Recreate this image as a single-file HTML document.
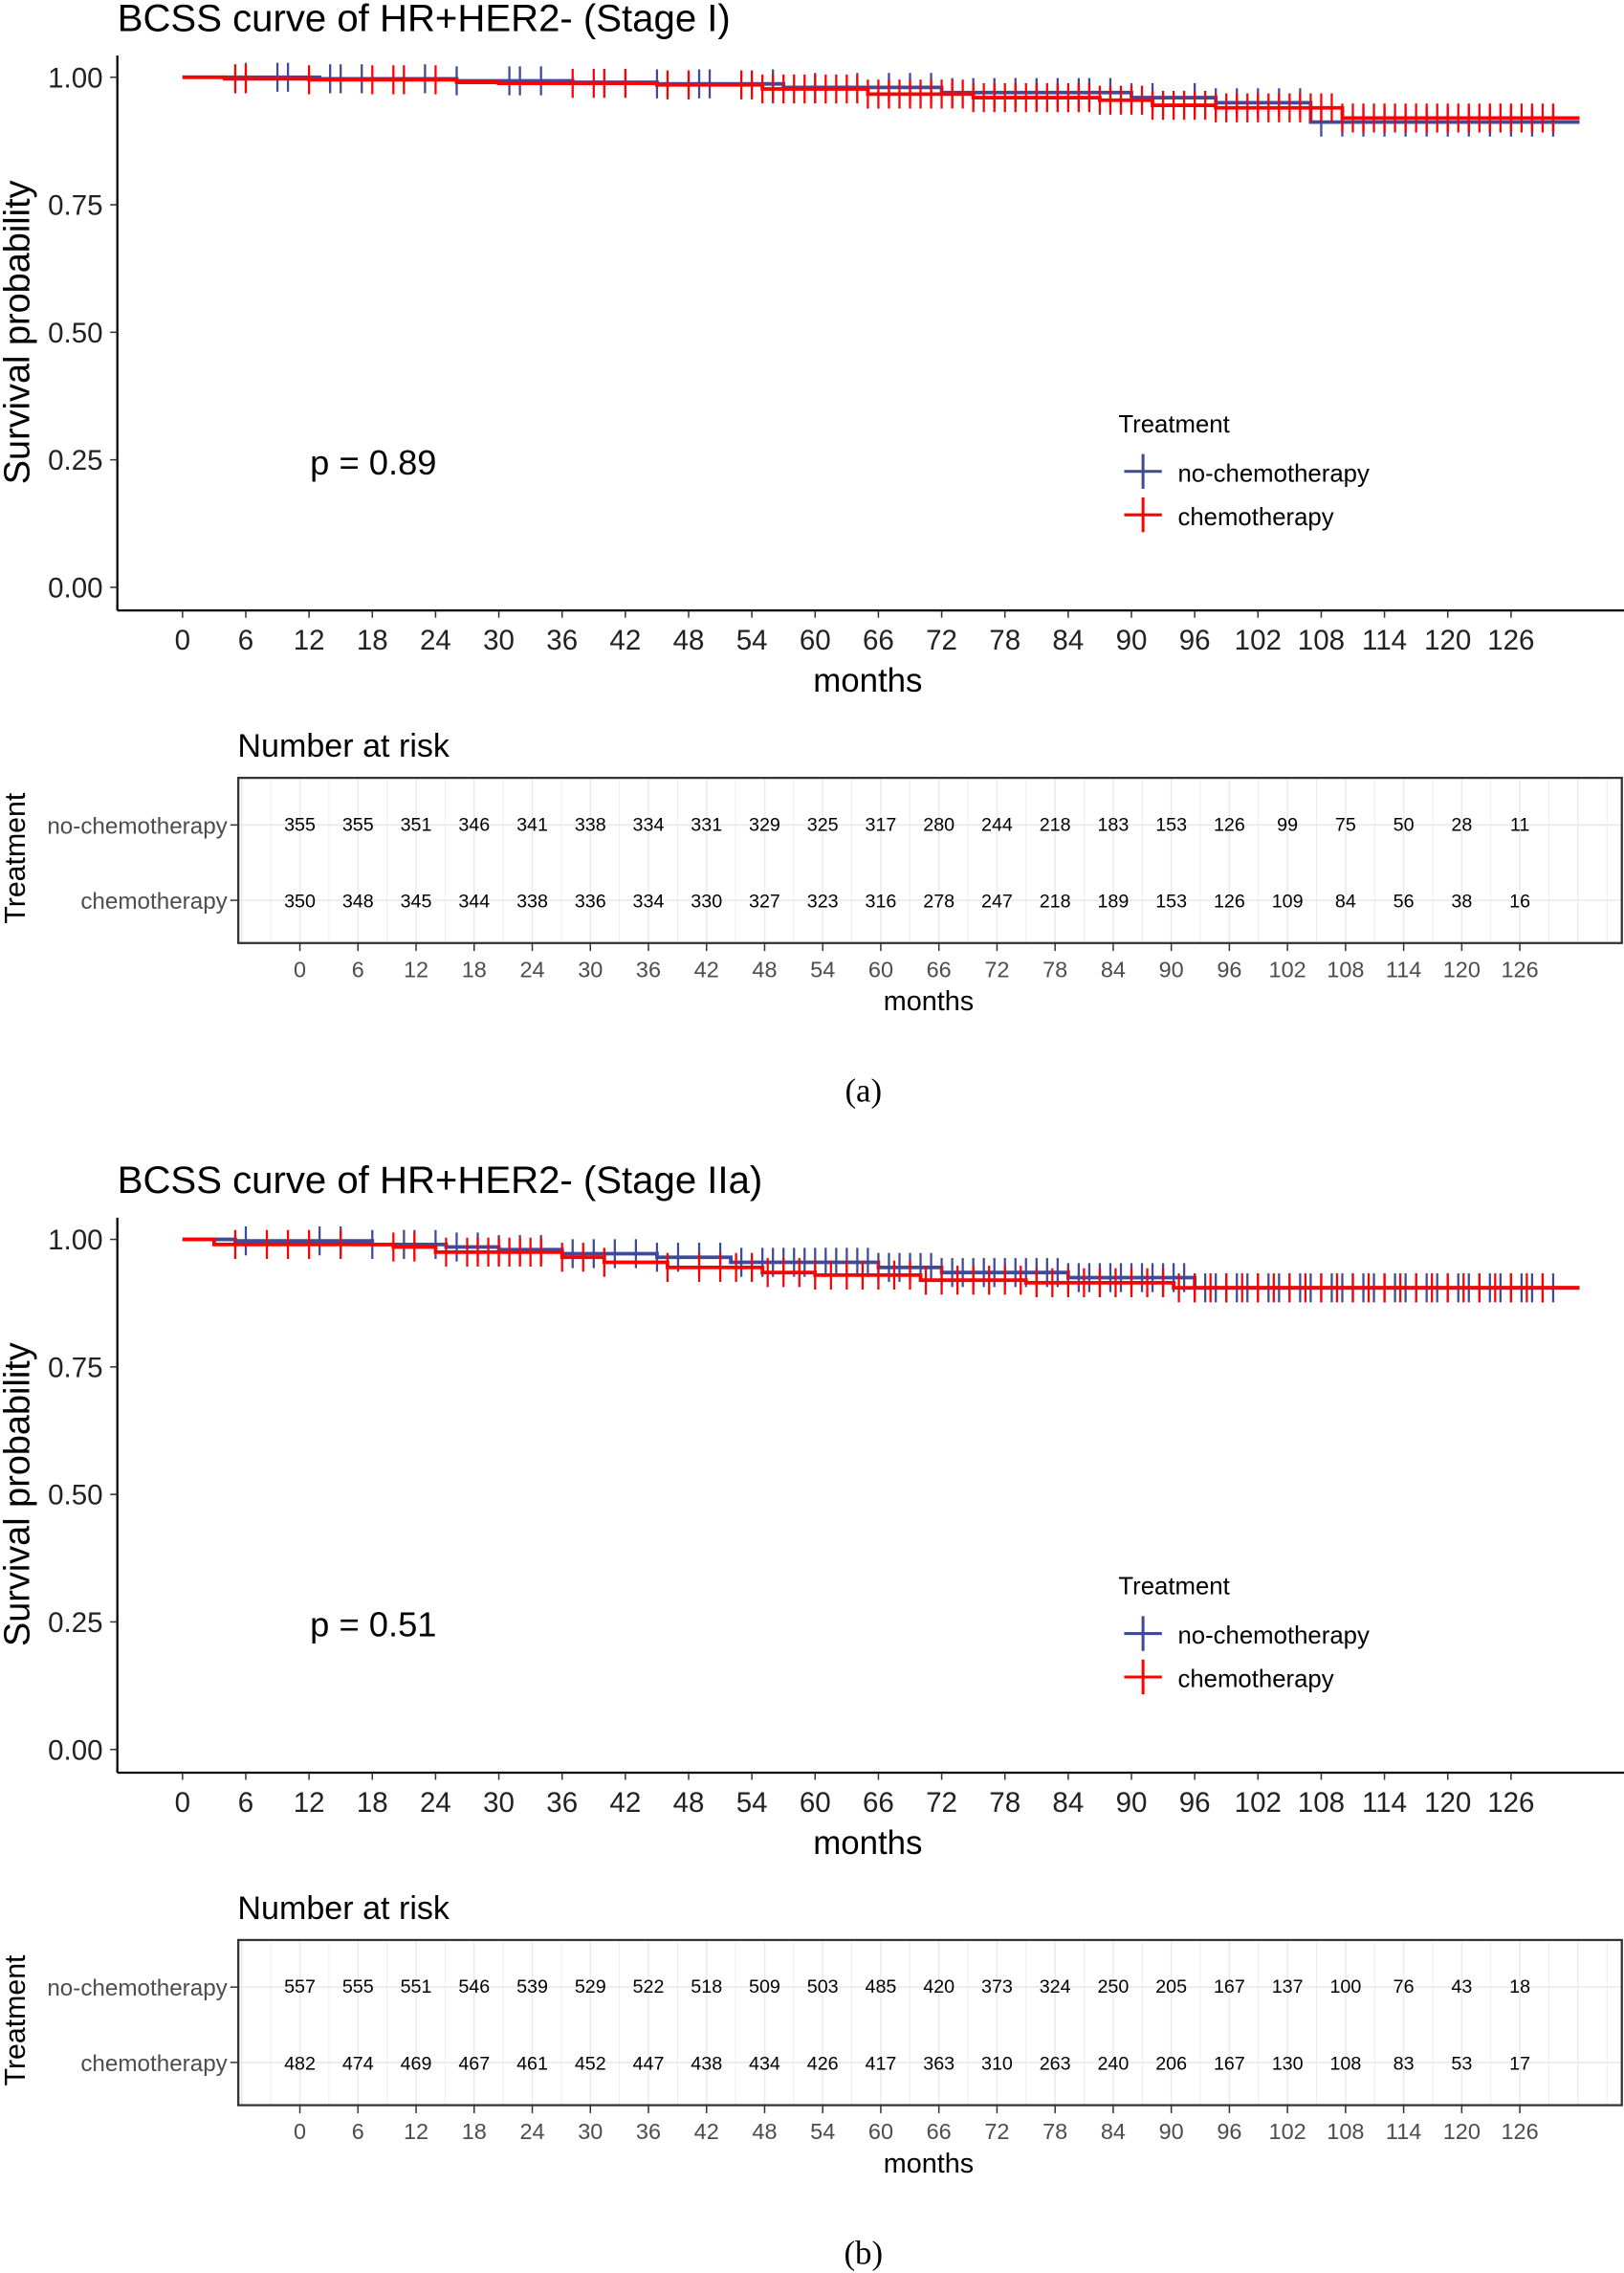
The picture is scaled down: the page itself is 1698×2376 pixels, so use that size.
<!DOCTYPE html>
<html><head><meta charset="utf-8"><style>
html,body{margin:0;padding:0;background:#fff}
svg{display:block}
text{font-family:"Liberation Sans",Arial,sans-serif}
</style></head><body>
<svg id="s" xmlns="http://www.w3.org/2000/svg" width="1698" height="2376" viewBox="0 0 1121 1568"></svg>
<script>
const S=document.getElementById('s');let h='';
const X=m=>126+m*7.2778;
function panel(o,title,p,blue,red,bt,rt,rn1,rn2){
 const Y=v=>o+405-352*v;
 h+=`<text x="81" y="${o+21}" font-size="26.5">${title}</text>`;
 h+=`<line x1="81" y1="${o+38}" x2="81" y2="${o+421}" stroke="#000" stroke-width="1.5"/>`;
 h+=`<line x1="81" y1="${o+421}" x2="1121" y2="${o+421}" stroke="#000" stroke-width="1.5"/>`;
 [0,0.25,0.5,0.75,1].forEach(v=>{h+=`<line x1="76" y1="${Y(v)}" x2="81" y2="${Y(v)}" stroke="#333"/><text x="71" y="${Y(v)+7}" font-size="19.5" text-anchor="end" fill="#222">${v.toFixed(2)}</text>`});
 for(let m=0;m<=126;m+=6){h+=`<line x1="${X(m)}" y1="${o+421}" x2="${X(m)}" y2="${o+426}" stroke="#333"/><text x="${X(m)}" y="${o+448}" font-size="19.5" text-anchor="middle" fill="#222">${m}</text>`}
 h+=`<text x="599" y="${o+477}" font-size="23" text-anchor="middle">months</text>`;
 h+=`<text transform="translate(20,${o+229}) rotate(-90)" font-size="25" text-anchor="middle">Survival probability</text>`;
 h+=`<text x="214" y="${o+327}" font-size="24">p = ${p}</text>`;
 function curve(pts,c,ticks){let d=`M${X(pts[0][0])},${Y(pts[0][1])}`;for(let i=1;i<pts.length;i++){d+=`H${X(pts[i][0])}V${Y(pts[i][1])}`}
  h+=`<path d="${d}" fill="none" stroke="${c}" stroke-width="2.5"/>`;
  const f=m=>{let v=1;pts.forEach(q=>{if(q[0]<=m)v=q[1]});return v};
  ticks.forEach(m=>{const y=Y(f(m));h+=`<line x1="${X(m)}" y1="${y-10}" x2="${X(m)}" y2="${y+10}" stroke="${c}" stroke-width="1.5"/>`});}
 curve(blue,'#3F4A98',bt);curve(red,'#FF0000',rt);
 h+=`<text x="772" y="${o+298}" font-size="17">Treatment</text>`;
 h+=`<line x1="776" y1="${o+325}" x2="802" y2="${o+325}" stroke="#3F4A98" stroke-width="2"/><line x1="789" y1="${o+313}" x2="789" y2="${o+337}" stroke="#3F4A98" stroke-width="2"/><text x="813" y="${o+332}" font-size="17">no-chemotherapy</text>`;
 h+=`<line x1="776" y1="${o+355}" x2="802" y2="${o+355}" stroke="#f00" stroke-width="2"/><line x1="789" y1="${o+343}" x2="789" y2="${o+367}" stroke="#f00" stroke-width="2"/><text x="813" y="${o+362}" font-size="17">chemotherapy</text>`;
 const R=m=>207+m*40.1/6;
 h+=`<text x="164" y="${o+522}" font-size="22.5">Number at risk</text>`;
 for(let m=-6;m<=138;m+=3){const x=R(m);if(x>165&&x<1119)h+=`<line x1="${x}" y1="${o+537}" x2="${x}" y2="${o+650}" stroke="#ebebeb" stroke-width="${m%6?0.6:1}"/>`}
 [569,621].forEach(y=>h+=`<line x1="165" y1="${o+y}" x2="1119" y2="${o+y}" stroke="#ebebeb" stroke-width="1.2"/>`);
 h+=`<rect x="164.5" y="${o+536.5}" width="955" height="114" fill="none" stroke="#333" stroke-width="1.5"/>`;
 h+=`<text x="157" y="${o+575}" font-size="16" text-anchor="end" fill="#4d4d4d">no-chemotherapy</text><text x="157" y="${o+627}" font-size="16" text-anchor="end" fill="#4d4d4d">chemotherapy</text>`;
 h+=`<line x1="159" y1="${o+569}" x2="164" y2="${o+569}" stroke="#333"/><line x1="159" y1="${o+621}" x2="164" y2="${o+621}" stroke="#333"/>`;
 h+=`<text transform="translate(17,${o+592}) rotate(-90)" font-size="20" text-anchor="middle">Treatment</text>`;
 for(let i=0;i<22;i++){const x=R(i*6);
  h+=`<text x="${x}" y="${o+573}" font-size="13" text-anchor="middle">${rn1[i]}</text><text x="${x}" y="${o+626}" font-size="13" text-anchor="middle">${rn2[i]}</text>`;
  h+=`<line x1="${x}" y1="${o+651}" x2="${x}" y2="${o+656}" stroke="#333"/><text x="${x}" y="${o+674}" font-size="15.5" text-anchor="middle" fill="#4d4d4d">${i*6}</text>`;}
 h+=`<text x="641" y="${o+697}" font-size="19" text-anchor="middle">months</text>`;
}
const rng=(a,b,s)=>{let r=[];for(let m=a;m<=b;m+=s)r.push(+m.toFixed(2));return r};
panel(0,'BCSS curve of HR+HER2- (Stage I)','0.89',
 [[0,1],[4,1],[13,0.997],[26,0.993],[37,0.99],[45,0.987],[57,0.98],[72,0.97],[90,0.96],[98,0.95],[107,0.912],[132.5,0.912]],
 [[0,1],[4,0.997],[12,0.995],[26,0.99],[30,0.988],[45,0.985],[55,0.977],[65,0.967],[75,0.96],[87,0.955],[92,0.945],[98,0.94],[110,0.92],[132.5,0.92]],
 [6,9,10,14,15,17,23,26,31,32,34,45,49,50,56,60,64,67,69,71,73,75,77,79,81,83,85,86,88,90,92,96,98,100,102,104,106,108,110,112,114,116,118,120,122,124,126,128,130],
 [5,6,12,18,20,21,24,37,39,40,42,46,48].concat(rng(53,130,1)),
 [355,355,351,346,341,338,334,331,329,325,317,280,244,218,183,153,126,99,75,50,28,11],
 [350,348,345,344,338,336,334,330,327,323,316,278,247,218,189,153,126,109,84,56,38,16]);
panel(802,'BCSS curve of HR+HER2- (Stage IIa)','0.51',
 [[0,1],[5,0.997],[18,0.99],[25,0.985],[30,0.98],[36,0.972],[45,0.965],[52,0.955],[66,0.945],[72,0.935],[84,0.925],[96,0.905],[132.5,0.905]],
 [[0,1],[3,0.99],[20,0.985],[24,0.975],[36,0.965],[40,0.955],[46,0.945],[55,0.935],[60,0.93],[70,0.92],[80,0.915],[94,0.905],[132.5,0.905]],
 [6,13,15,18,21,22,24,26,28,30,32,34,37,39,41,43,45,47,49,51,53].concat(rng(55,130,1)),
 [5,8,10,12,15,20,22,25,27,28,29,30,31,32,33,34,36,38,40,46,49].concat(rng(51,130,1.5)),
 [557,555,551,546,539,529,522,518,509,503,485,420,373,324,250,205,167,137,100,76,43,18],
 [482,474,469,467,461,452,447,438,434,426,417,363,310,263,240,206,167,130,108,83,53,17]);
h+=`<text x="596" y="760" font-size="23" text-anchor="middle" style="font-family:'Liberation Serif',serif">(a)</text>`;
h+=`<text x="596" y="1562" font-size="23" text-anchor="middle" style="font-family:'Liberation Serif',serif">(b)</text>`;
S.innerHTML=h;
</script>
</body></html>
